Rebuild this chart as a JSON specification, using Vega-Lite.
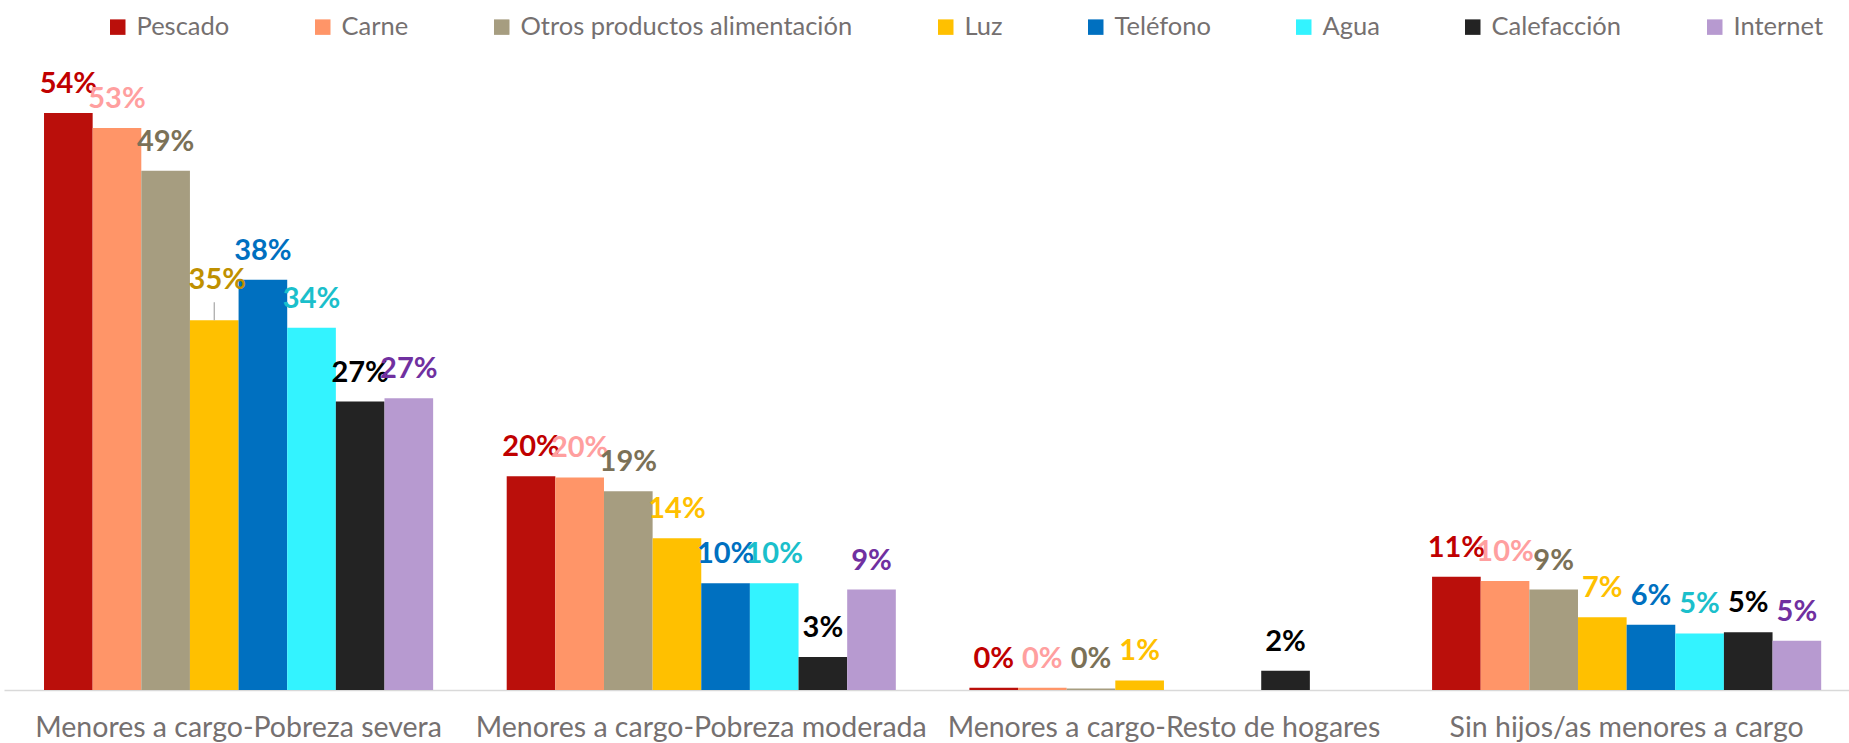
{
  "$schema": "https://vega.github.io/schema/vega-lite/v6.json",
  "width": 1845,
  "height": 641,
  "autosize": {"type": "none"},
  "padding": {"left": 4, "top": 49, "right": 0, "bottom": 53},
  "background": "white",
  "config": {"view": {"stroke": null}, "font": "Lato"},
  "data": {
    "values": [
      {"grupo": "Menores a cargo-Pobreza severa", "serie": "Pescado", "valor": 0.540},
      {"grupo": "Menores a cargo-Pobreza severa", "serie": "Carne", "valor": 0.526},
      {"grupo": "Menores a cargo-Pobreza severa", "serie": "Otros productos alimentación", "valor": 0.486},
      {"grupo": "Menores a cargo-Pobreza severa", "serie": "Luz", "valor": 0.346},
      {"grupo": "Menores a cargo-Pobreza severa", "serie": "Teléfono", "valor": 0.384},
      {"grupo": "Menores a cargo-Pobreza severa", "serie": "Agua", "valor": 0.339},
      {"grupo": "Menores a cargo-Pobreza severa", "serie": "Calefacción", "valor": 0.270},
      {"grupo": "Menores a cargo-Pobreza severa", "serie": "Internet", "valor": 0.273},
      {"grupo": "Menores a cargo-Pobreza moderada", "serie": "Pescado", "valor": 0.200},
      {"grupo": "Menores a cargo-Pobreza moderada", "serie": "Carne", "valor": 0.199},
      {"grupo": "Menores a cargo-Pobreza moderada", "serie": "Otros productos alimentación", "valor": 0.186},
      {"grupo": "Menores a cargo-Pobreza moderada", "serie": "Luz", "valor": 0.142},
      {"grupo": "Menores a cargo-Pobreza moderada", "serie": "Teléfono", "valor": 0.100},
      {"grupo": "Menores a cargo-Pobreza moderada", "serie": "Agua", "valor": 0.100},
      {"grupo": "Menores a cargo-Pobreza moderada", "serie": "Calefacción", "valor": 0.031},
      {"grupo": "Menores a cargo-Pobreza moderada", "serie": "Internet", "valor": 0.094},
      {"grupo": "Menores a cargo-Resto de hogares", "serie": "Pescado", "valor": 0.002},
      {"grupo": "Menores a cargo-Resto de hogares", "serie": "Carne", "valor": 0.002},
      {"grupo": "Menores a cargo-Resto de hogares", "serie": "Otros productos alimentación", "valor": 0.0015},
      {"grupo": "Menores a cargo-Resto de hogares", "serie": "Luz", "valor": 0.009},
      {"grupo": "Menores a cargo-Resto de hogares", "serie": "Calefacción", "valor": 0.018},
      {"grupo": "Sin hijos/as menores a cargo", "serie": "Pescado", "valor": 0.106},
      {"grupo": "Sin hijos/as menores a cargo", "serie": "Carne", "valor": 0.102},
      {"grupo": "Sin hijos/as menores a cargo", "serie": "Otros productos alimentación", "valor": 0.094},
      {"grupo": "Sin hijos/as menores a cargo", "serie": "Luz", "valor": 0.068},
      {"grupo": "Sin hijos/as menores a cargo", "serie": "Teléfono", "valor": 0.061},
      {"grupo": "Sin hijos/as menores a cargo", "serie": "Agua", "valor": 0.053},
      {"grupo": "Sin hijos/as menores a cargo", "serie": "Calefacción", "valor": 0.054},
      {"grupo": "Sin hijos/as menores a cargo", "serie": "Internet", "valor": 0.046}
    ]
  },
  "encoding": {
    "x": {
      "field": "grupo",
      "type": "nominal",
      "sort": ["Menores a cargo-Pobreza severa", "Menores a cargo-Pobreza moderada", "Menores a cargo-Resto de hogares", "Sin hijos/as menores a cargo"],
      "scale": {"paddingInner": 0.159, "paddingOuter": 0.0733, "align": 0.59},
      "axis": {
        "title": null,
        "labelAngle": 0,
        "ticks": false,
        "domainColor": "#D9D9D9",
        "domainWidth": 1.5,
        "labelColor": "#757070",
        "labelFontSize": 28.5,
        "labelFont": "Lato",
        "labelPadding": 23,
        "labelLimit": 0
      }
    },
    "xOffset": {
      "field": "serie",
      "type": "nominal",
      "scale": {
        "domain": ["Pescado", "Carne", "Otros productos alimentación", "Luz", "Teléfono", "Agua", "Calefacción", "Internet"],
        "paddingInner": 0,
        "paddingOuter": 0
      }
    },
    "y": {
      "field": "valor",
      "type": "quantitative",
      "scale": {"domain": [0, 0.6], "nice": false, "zero": true},
      "axis": null
    }
  },
  "layer": [
    {
      "mark": {"type": "bar"},
      "encoding": {
        "color": {
          "field": "serie",
          "type": "nominal",
          "scale": {
            "domain": ["Pescado", "Carne", "Otros productos alimentación", "Luz", "Teléfono", "Agua", "Calefacción", "Internet"],
            "range": ["#BA0F0B", "#FF9568", "#A69D80", "#FFC000", "#0070C0", "#33F3FF", "#232323", "#B79AD0"]
          },
          "legend": {
            "orient": "none",
            "legendX": 101,
            "legendY": -35,
            "direction": "horizontal",
            "columns": 8,
            "title": null,
            "symbolType": "square",
            "symbolSize": 240,
            "symbolStrokeWidth": 0,
            "labelFontSize": 25.5,
            "labelColor": "#757070",
            "labelFont": "Lato",
            "labelLimit": 0,
            "columnPadding": 80,
            "labelOffset": 6,
            "padding": 0
          }
        }
      }
    },
    {
      "transform": [{"filter": "!(datum.grupo == 'Menores a cargo-Pobreza severa' && datum.serie == 'Luz')"}],
      "mark": {"type": "text", "dy": -20, "baseline": "alphabetic", "fontWeight": "bold", "fontSize": 29, "font": "Lato"},
      "encoding": {
        "text": {"field": "valor", "type": "quantitative", "format": ".0%"},
        "color": {
          "field": "serie",
          "type": "nominal",
          "scale": {
            "domain": ["Pescado", "Carne", "Otros productos alimentación", "Luz", "Teléfono", "Agua", "Calefacción", "Internet"],
            "range": ["#C00000", "#FF9F9F", "#7B7157", "#FFC000", "#0070C0", "#1BBFCB", "#000000", "#7030A0"]
          },
          "legend": null
        }
      }
    },
    {
      "transform": [{"filter": "datum.grupo == 'Menores a cargo-Pobreza severa' && datum.serie == 'Luz'"}],
      "mark": {"type": "text", "dy": -31, "dx": 3, "baseline": "alphabetic", "fontWeight": "bold", "fontSize": 29, "font": "Lato", "color": "#BF9000"},
      "encoding": {
        "text": {"field": "valor", "type": "quantitative", "format": ".0%"}
      }
    },
    {
      "transform": [{"filter": "datum.grupo == 'Menores a cargo-Pobreza severa' && datum.serie == 'Luz'"}],
      "mark": {"type": "rule", "color": "#A6A6A6", "strokeWidth": 1.2},
      "encoding": {"y2": {"datum": 0.363}}
    }
  ],
  "resolve": {"scale": {"color": "independent"}}
}
